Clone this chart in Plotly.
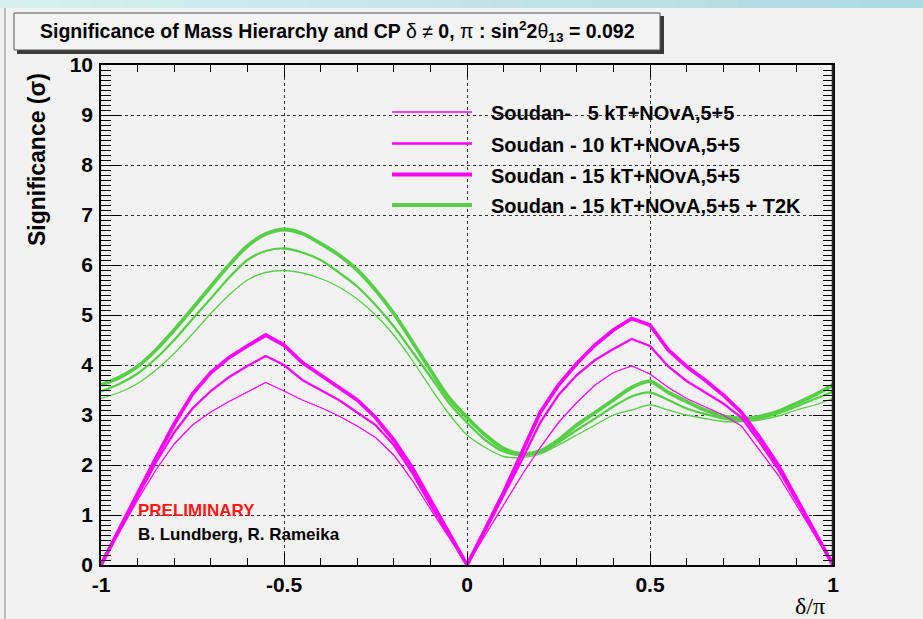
import plotly.graph_objects as go

# delta / pi sampling points
delta = [-1.00, -0.95, -0.90, -0.85, -0.80, -0.75, -0.70, -0.65, -0.60, -0.55,
         -0.50, -0.45, -0.40, -0.35, -0.30, -0.25, -0.20, -0.15, -0.10, -0.05,
         0.00, 0.05, 0.10, 0.15, 0.20, 0.25, 0.30, 0.35, 0.40, 0.45,
         0.50, 0.55, 0.60, 0.65, 0.70, 0.75, 0.80, 0.85, 0.90, 0.95, 1.00]

# Soudan + NOvA 5+5 significance (sigma)
soudan5 = [0.00, 0.66, 1.30, 1.90, 2.42, 2.80, 3.06, 3.27, 3.46, 3.65,
           3.48, 3.30, 3.15, 2.98, 2.78, 2.55, 2.20, 1.70, 1.12, 0.55,
           0.00, 0.60, 1.20, 1.80, 2.35, 2.85, 3.25, 3.60, 3.85, 3.98,
           3.82, 3.55, 3.33, 3.17, 3.00, 2.78, 2.30, 1.80, 1.20, 0.60, 0.00]
soudan10 = [0.00, 0.69, 1.38, 2.05, 2.65, 3.13, 3.48, 3.76, 3.98, 4.18,
            4.00, 3.70, 3.50, 3.30, 3.05, 2.80, 2.40, 1.85, 1.20, 0.60,
            0.00, 0.68, 1.38, 2.10, 2.85, 3.40, 3.80, 4.10, 4.32, 4.52,
            4.38, 3.97, 3.68, 3.45, 3.23, 2.95, 2.45, 1.92, 1.28, 0.64, 0.00]
soudan15 = [0.00, 0.72, 1.44, 2.14, 2.82, 3.42, 3.85, 4.15, 4.38, 4.60,
            4.40, 4.05, 3.80, 3.55, 3.30, 2.95, 2.50, 1.95, 1.30, 0.65,
            0.00, 0.72, 1.45, 2.25, 3.05, 3.60, 4.03, 4.40, 4.70, 4.93,
            4.80, 4.30, 3.97, 3.70, 3.40, 3.05, 2.55, 2.00, 1.33, 0.67, 0.00]

# Same configurations combined with T2K
t2k5 = [3.33, 3.45, 3.63, 3.90, 4.23, 4.62, 5.03, 5.40, 5.70, 5.85,
        5.89, 5.84, 5.73, 5.56, 5.32, 5.00, 4.60, 4.10, 3.55, 3.03,
        2.60, 2.35, 2.17, 2.15, 2.22, 2.40, 2.60, 2.80, 3.00, 3.10,
        3.20, 3.10, 3.00, 2.93, 2.87, 2.87, 2.90, 2.98, 3.10, 3.20, 3.33]
t2k10 = [3.47, 3.62, 3.83, 4.13, 4.50, 4.92, 5.33, 5.75, 6.10, 6.28,
         6.33, 6.25, 6.10, 5.85, 5.57, 5.20, 4.77, 4.27, 3.77, 3.25,
         2.85, 2.50, 2.27, 2.20, 2.25, 2.45, 2.70, 2.93, 3.17, 3.37,
         3.45, 3.30, 3.13, 3.02, 2.93, 2.90, 2.93, 3.03, 3.17, 3.32, 3.47]
t2k15 = [3.60, 3.75, 3.97, 4.30, 4.70, 5.13, 5.57, 6.00, 6.38, 6.62,
         6.71, 6.63, 6.43, 6.20, 5.90, 5.50, 5.03, 4.47, 3.90, 3.35,
         2.95, 2.60, 2.33, 2.22, 2.28, 2.50, 2.80, 3.05, 3.30, 3.55,
         3.67, 3.45, 3.27, 3.10, 2.98, 2.93, 2.97, 3.07, 3.23, 3.40, 3.60]

legend_labels = ["Soudan-   5 kT+NOvA,5+5",
                 "Soudan - 10 kT+NOvA,5+5",
                 "Soudan - 15 kT+NOvA,5+5",
                 "Soudan - 15 kT+NOvA,5+5 + T2K"]

x_tickvals = [-1, -0.5, 0, 0.5, 1]
x_ticktext = ["-1", "-0.5", "0", "0.5", "1"]
y_tickvals = [0, 1, 2, 3, 4, 5, 6, 7, 8, 9, 10]

MAGENTA = "#ff00ff"
GREEN = "rgb(88,206,72)"
W_THIN, W_MED, W_THICK = 1.3, 2.3, 3.8

W, H = 923, 619
L, R, T, B = 101, 833, 65, 565   # plot area edges in pixels


def px(x):
    return (x - L) / (R - L)


def py(y):
    return (B - y) / (B - T)


fig = go.Figure()
# T2K combinations: smooth curves
for ys, w in [(t2k5, W_THIN), (t2k10, W_MED), (t2k15, W_THICK)]:
    fig.add_trace(go.Scatter(x=delta, y=ys, mode="lines",
                             line=dict(color=GREEN, width=w, shape="spline", smoothing=0.8),
                             showlegend=False, hoverinfo="skip"))
# Soudan + NOvA alone: straight segments (sharp zeros at 0 and +-pi)
for ys, w in [(soudan5, W_THIN), (soudan10, W_MED), (soudan15, W_THICK)]:
    fig.add_trace(go.Scatter(x=delta, y=ys, mode="lines",
                             line=dict(color=MAGENTA, width=w), showlegend=False,
                             hoverinfo="skip"))

FONT = "Liberation Sans, Arial, Helvetica, sans-serif"
axis_common = dict(showline=True, linecolor="black", linewidth=1.5, mirror="allticks",
                   ticks="inside", tickcolor="black", tickwidth=1.2,
                   showgrid=True, gridcolor="#333333", griddash="dot", gridwidth=1,
                   zeroline=False,
                   tickfont=dict(family=FONT, size=21, color="black", weight="bold"))

fig.update_xaxes(range=[-1, 1], tickvals=x_tickvals, ticktext=x_ticktext, ticklen=12,
                 minor=dict(dtick=0.1, ticks="inside", ticklen=7, tickcolor="black",
                            showgrid=False),
                 ticklabelstandoff=0, **axis_common)
fig.update_yaxes(range=[0, 10], tickvals=y_tickvals, ticklen=20,
                 minor=dict(dtick=0.1, ticks="inside", ticklen=10, tickcolor="black",
                            showgrid=False),
                 ticklabelstandoff=2, **axis_common)

shapes = []
# top strip of the page
n = 30
for i in range(n):
    f = i / (n - 1)
    r = int(214 - 40 * f)
    g = int(240 - 22 * f)
    b = int(242 - 18 * f)
    shapes.append(dict(type="rect", xref="paper", yref="paper",
                       x0=px(i * W / n), x1=px((i + 1) * W / n + 1),
                       y0=py(8), y1=py(0), line_width=0,
                       fillcolor=f"rgb({r},{g},{b})", layer="below"))
# left page rule
shapes.append(dict(type="line", xref="paper", yref="paper", x0=px(5), x1=px(5),
                   y0=py(W), y1=py(8), line=dict(color="#bdbdbd", width=2)))
# title box with shadow
shapes.append(dict(type="rect", xref="paper", yref="paper", x0=px(17), x1=px(664),
                   y0=py(54), y1=py(16), fillcolor="#3a3a3a", line_width=0))
shapes.append(dict(type="rect", xref="paper", yref="paper", x0=px(14), x1=px(660),
                   y0=py(50), y1=py(13), fillcolor="#f4f4f4",
                   line=dict(color="#555555", width=1)))
# right frame edge
shapes.append(dict(type="line", xref="paper", yref="paper", x0=1, x1=1, y0=0, y1=1,
                   line=dict(color="#222222", width=2.5)))

# legend samples
leg_y = [112, 143.5, 174.5, 205]
leg_w = [1.6, 2.6, 4.0, 4.0]
leg_c = [MAGENTA, MAGENTA, MAGENTA, GREEN]
for yy, ww, cc in zip(leg_y, leg_w, leg_c):
    shapes.append(dict(type="line", xref="paper", yref="paper", x0=px(392), x1=px(472),
                       y0=py(yy), y1=py(yy), line=dict(color=cc, width=ww)))

annotations = []
for yy, txt in zip(leg_y, legend_labels):
    annotations.append(dict(x=px(489), y=py(yy + 1), xref="paper", yref="paper",
                            text=txt, showarrow=False, xanchor="left", yanchor="middle",
                            font=dict(family=FONT, size=20, color="black", weight="bold")))

annotations.append(dict(
    x=px(337), y=py(31.5), xref="paper", yref="paper", showarrow=False,
    xanchor="center", yanchor="middle",
    text=("Significance of Mass Hierarchy and CP <span style='font-weight:normal'>"
          "δ ≠</span> 0, <span style='font-weight:normal'>π</span> : "
          "sin<sup>2</sup>2<span style='font-weight:normal'>θ</span><sub>13</sub> = 0.092"),
    font=dict(family=FONT, size=19.5, color="black", weight="bold")))

annotations.append(dict(x=px(37), y=py(160), xref="paper", yref="paper",
                        text="Significance (σ)", textangle=-90, showarrow=False,
                        xanchor="center", yanchor="middle",
                        font=dict(family=FONT, size=23, color="black", weight="bold")))
annotations.append(dict(x=px(810), y=py(606), xref="paper", yref="paper",
                        text="δ/π", showarrow=False, xanchor="center", yanchor="middle",
                        font=dict(family="Liberation Serif, Times New Roman, serif",
                                  size=24, color="black")))
annotations.append(dict(x=px(136), y=py(510), xref="paper", yref="paper",
                        text="PRELIMINARY", showarrow=False, xanchor="left",
                        yanchor="middle",
                        font=dict(family=FONT, size=17, color="#ff1a1a", weight="bold")))
annotations.append(dict(x=px(136), y=py(534), xref="paper", yref="paper",
                        text="B. Lundberg, R. Rameika", showarrow=False, xanchor="left",
                        yanchor="middle",
                        font=dict(family=FONT, size=17, color="black", weight="bold")))

fig.update_layout(width=W, height=H, autosize=False,
                  margin=dict(l=L, r=W - R, t=T, b=H - B, pad=0),
                  paper_bgcolor="#f2f2f2", plot_bgcolor="#f2f2f2",
                  shapes=shapes, annotations=annotations, showlegend=False)

fig.write_html("out.html")
